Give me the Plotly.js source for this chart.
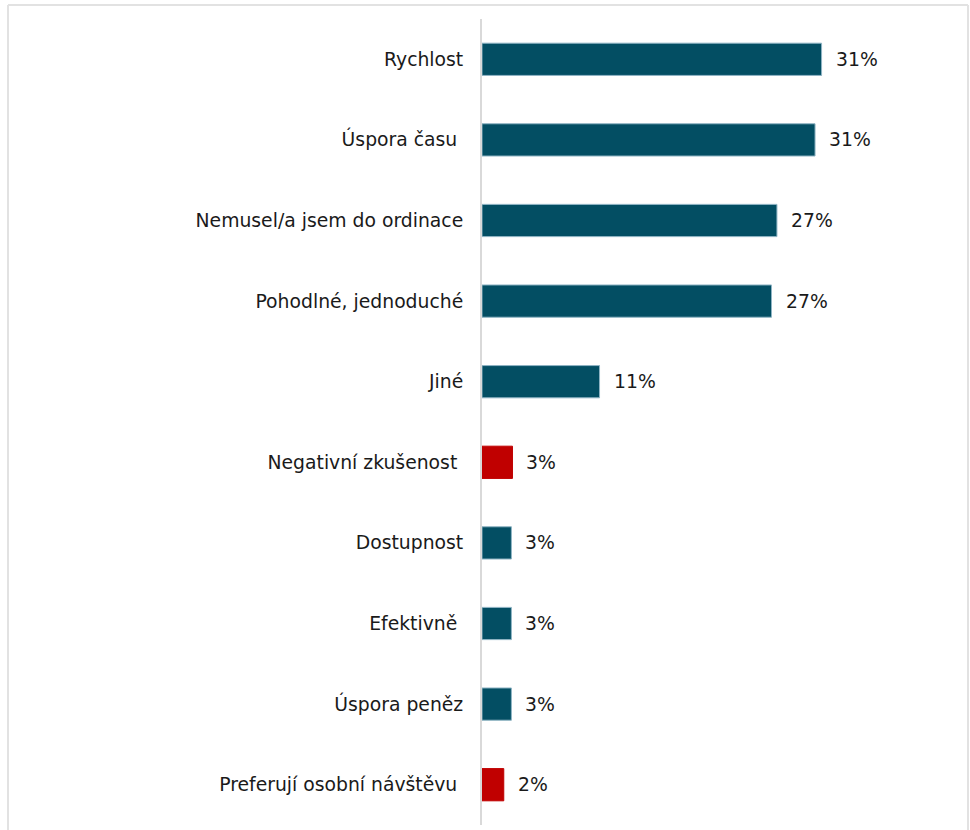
<!DOCTYPE html>
<html>
<head>
<meta charset="utf-8">
<script src="https://cdn.plot.ly/plotly-3.0.1.min.js"></script>
<style>
html,body{margin:0;padding:0;background:#ffffff;}
#chart{width:970px;height:830px;}
</style>
</head>
<body>
<div id="chart"></div>
<script>
const categories = [
  "Rychlost",
  "Úspora času\u00a0",
  "Nemusel/a jsem do ordinace",
  "Pohodlné, jednoduché",
  "Jiné",
  "Negativní zkušenost\u00a0",
  "Dostupnost",
  "Efektivně\u00a0",
  "Úspora peněz",
  "Preferují osobní návštěvu\u00a0"
];
const values = [31.2, 30.6, 27.1, 26.6, 10.8, 2.8, 2.7, 2.7, 2.7, 2.0];
const valueLabels = ["31%", "31%", "27%", "27%", "11%", "3%", "3%", "3%", "3%", "2%"];
const isNegative = [false, false, false, false, false, true, false, false, false, true];

const TEAL = "#034E63";
const RED = "#C00000";
const barColors = isNegative.map(n => n ? RED : TEAL);
const edgeColors = isNegative.map(n => n ? RED : "#8fb4c4");

const FONT = "DejaVu Sans, Verdana, sans-serif";
const FSIZE = 18.8;

const trace = {
  type: "bar",
  orientation: "h",
  x: values,
  y: categories,
  marker: {color: barColors, line: {color: edgeColors, width: 1}},
  width: 0.4,
  hoverinfo: "none"
};

const annotations = categories.map((c, i) => ({
  x: values[i], y: c, xref: "x", yref: "y",
  text: valueLabels[i], showarrow: false,
  xanchor: "left", xshift: 12,
  font: {family: FONT, size: FSIZE, color: "#1a1a1a"}
}));

const L = 482, R = 950, T = 19, B = 825;
const px2x = p => (p - L) / (R - L);
const py2y = p => (B - p) / (B - T);

const layout = {
  width: 970, height: 830,
  margin: {l: L, r: 970 - R, t: T, b: 830 - B, pad: 0},
  paper_bgcolor: "#ffffff",
  plot_bgcolor: "#ffffff",
  showlegend: false,
  font: {family: FONT, size: FSIZE, color: "#1a1a1a"},
  xaxis: {
    range: [0, 43],
    showgrid: false, zeroline: false, showticklabels: false, showline: false, ticks: ""
  },
  yaxis: {
    type: "category",
    autorange: "reversed",
    showgrid: false, zeroline: false,
    showline: true, linecolor: "#d9d9d9", linewidth: 2,
    ticks: "", ticklabelstandoff: 13,
    tickfont: {family: FONT, size: FSIZE, color: "#1a1a1a"}
  },
  annotations: annotations,
  shapes: [
    {type: "line", xref: "paper", yref: "paper", x0: px2x(8), x1: px2x(968), y0: py2y(5), y1: py2y(5),
     line: {color: "#e2e2e2", width: 2}},
    {type: "line", xref: "paper", yref: "paper", x0: px2x(8), x1: px2x(8), y0: py2y(5), y1: py2y(832),
     line: {color: "#e2e2e2", width: 2}},
    {type: "line", xref: "paper", yref: "paper", x0: px2x(968), x1: px2x(968), y0: py2y(5), y1: py2y(832),
     line: {color: "#e2e2e2", width: 2}}
  ]
};

Plotly.newPlot("chart", [trace], layout, {displayModeBar: false, staticPlot: true});
</script>
</body>
</html>
